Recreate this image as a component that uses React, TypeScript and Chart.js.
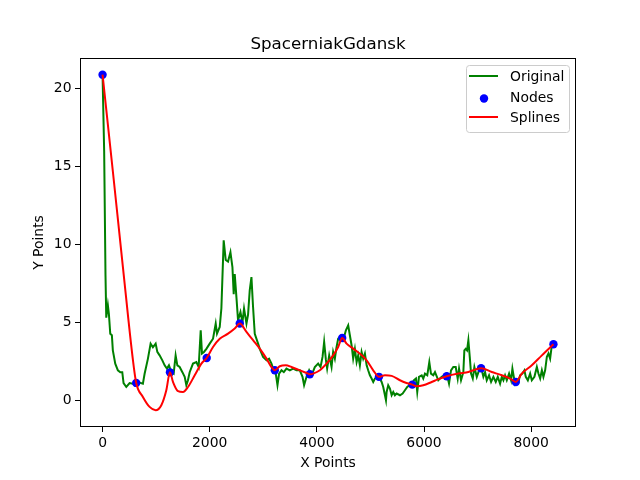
import { useEffect, useRef } from "react"
import { Chart, registerables } from "chart.js"

Chart.register(...registerables)

// "Original" series (green)
const origX = [
  0, 30, 55, 69, 99, 118, 144, 174, 192, 237, 286, 331, 368, 392, 443, 505, 566, 660, 753, 785,
  847, 897, 940, 991, 1022, 1065, 1116, 1159, 1202, 1239, 1284, 1327, 1364, 1396, 1439, 1490, 1533, 1564, 1594, 1626,
  1688, 1751, 1794, 1832, 1856, 1893, 1938, 2000, 2062, 2112, 2136, 2187, 2218, 2261, 2299, 2342, 2387, 2424, 2448, 2467,
  2499, 2529, 2574, 2611, 2641, 2686, 2716, 2747, 2779, 2809, 2841, 2903, 2934, 2996, 3060, 3108, 3153, 3183, 3233, 3265,
  3295, 3340, 3383, 3433, 3495, 3557, 3620, 3682, 3732, 3762, 3807, 3856, 3901, 3962, 4024, 4069, 4106, 4136, 4168, 4192,
  4230, 4274, 4304, 4336, 4368, 4398, 4443, 4491, 4542, 4585, 4616, 4648, 4678, 4710, 4742, 4772, 4803, 4835, 4865, 4897,
  4929, 4958, 4990, 5022, 5052, 5084, 5116, 5145, 5177, 5209, 5239, 5271, 5290, 5302, 5332, 5364, 5396, 5426, 5457, 5489,
  5551, 5601, 5644, 5687, 5725, 5770, 5813, 5850, 5874, 5906, 5957, 5986, 6018, 6061, 6099, 6130, 6173, 6205, 6267, 6330,
  6379, 6424, 6467, 6504, 6547, 6592, 6629, 6654, 6691, 6734, 6753, 6779, 6803, 6828, 6854, 6878, 6910, 6940, 6985, 7027,
  7065, 7108, 7140, 7171, 7214, 7252, 7295, 7339, 7377, 7420, 7452, 7482, 7513, 7545, 7588, 7625, 7650, 7676, 7700, 7732,
  7762, 7794, 7837, 7874, 7900, 7938, 7981, 8012, 8061, 8106, 8136, 8168, 8200, 8229, 8261, 8293, 8323, 8354, 8386, 8416,
]
const origY = [
  20.9, 16, 8, 5.3, 6.1, 5.55, 4.27, 4.17, 3.2, 2.35, 1.92, 1.8, 1.8, 1.1, 0.85, 1.1, 1.06, 1.17, 1.06, 1.7,
  2.67, 3.63, 3.4, 3.63, 3.1, 2.88, 2.56, 2.24, 2.03, 2.24, 1.8, 1.7, 2.88, 2.24, 2.13, 1.8, 1.5, 0.96, 1.28, 1.8,
  2.35, 2.45, 2.13, 4.49, 3.0, 3.1, 3.3, 3.63, 3.95, 4.92, 4.27, 4.7, 5.9, 10.26, 9.0, 8.9, 9.5, 8.55, 6.8, 8.1,
  6.6, 5.13, 5.66, 5.0, 5.88, 4.92, 5.5, 7.05, 7.9, 6.0, 4.27, 3.63, 3.3, 2.78, 2.56, 2.67, 2.35, 2.03, 1.71, 0.96,
  1.71, 1.92, 1.8, 2.03, 1.92, 2.03, 1.92, 1.92, 1.5, 0.96, 1.5, 1.92, 1.6, 2.13, 2.35, 2.13, 2.78, 3.74, 2.6, 2.03,
  2.88, 2.13, 3.1, 2.67, 3.42, 3.95, 4.06, 3.85, 4.49, 4.81, 4.17, 3.53, 2.67, 3.3, 2.45, 2.88, 2.24, 3.1, 2.67, 3.0,
  2.24, 1.92, 1.6, 1.39, 1.17, 1.39, 1.5, 1.39, 1.39, 1.17, 0.85, 0.32, 0.0, 0.53, 0.96, 0.75, 0.32, 0.53, 0.32, 0.43,
  0.32, 0.43, 0.64, 0.85, 0.96, 1.06, 1.28, 1.39, 0.53, 1.5, 1.6, 1.39, 1.71, 1.6, 2.45, 1.71, 1.6, 1.8, 1.28, 1.5,
  1.6, 1.71, 1.06, 1.92, 2.13, 2.13, 1.39, 2.03, 1.28, 1.8, 3.2, 3.3, 3.2, 3.85, 2.78, 1.71, 1.39, 2.13, 1.5, 1.92,
  2.13, 1.5, 1.8, 1.28, 1.6, 1.17, 1.5, 1.17, 1.5, 1.06, 1.5, 1.28, 1.6, 1.28, 1.71, 1.28, 2.03, 1.5, 1.06, 1.28,
  1.17, 1.6, 1.71, 1.92, 1.5, 1.28, 1.71, 1.28, 1.5, 2.13, 1.71, 1.39, 1.92, 1.5, 1.92, 2.78, 3.0, 2.67, 3.53, 3.63,
]

// "Nodes" (blue dots)
const nodeX = [0, 628, 1258, 1944, 2561, 3215, 3869, 4473, 5159, 5781, 6423, 7065, 7713, 8416]
const nodeY = [20.9, 1.11, 1.79, 2.71, 4.92, 1.92, 1.67, 3.99, 1.5, 1.0, 1.54, 2.05, 1.17, 3.59]

// "Splines" (red)
const splineX = [
  0, 192, 380, 566, 628, 753, 878, 991, 1097, 1190, 1258, 1315, 1408, 1501, 1595, 1720, 1845, 1944, 2062, 2187,
  2342, 2467, 2561, 2686, 2809, 2934, 3060, 3153, 3215, 3308, 3420, 3526, 3651, 3807, 3869, 3931, 4056, 4181, 4304, 4398,
  4473, 4555, 4678, 4803, 4929, 5052, 5159, 5271, 5396, 5551, 5660, 5781, 5863, 5986, 6143, 6267, 6423, 6641, 6828, 7065,
  7265, 7452, 7607, 7713, 7825, 8012, 8200, 8416,
]
const splineY = [
  20.9, 14.7, 8.55, 2.6, 1.11, 0.21, -0.43, -0.64, -0.32, 0.64, 1.79, 1.17, 0.58, 0.53, 0.85, 1.6, 2.35, 2.71, 3.42, 3.95,
  4.27, 4.6, 4.92, 4.38, 3.85, 3.31, 2.67, 2.13, 1.92, 2.18, 2.24, 2.13, 1.96, 1.75, 1.67, 1.71, 1.92, 2.35, 2.88, 3.42,
  3.99, 3.63, 3.31, 2.99, 2.56, 1.92, 1.5, 1.6, 1.56, 1.28, 1.12, 1.0, 0.9, 0.96, 1.17, 1.35, 1.54, 1.71, 1.81, 2.05,
  1.81, 1.6, 1.39, 1.17, 1.71, 2.24, 2.88, 3.59,
]

const xTicks = [0, 2000, 4000, 6000, 8000]
const yTicks = [0, 5, 10, 15, 20]

const FONT = "DejaVu Sans"

const toPoints = (xs: number[], ys: number[]) => xs.map((x, i) => ({ x, y: ys[i] }))

// title, axis labels, frame and legend drawn like matplotlib
const decorPlugin = {
  id: "decor",
  afterDatasetsDraw(chart: any) {
    const { ctx, chartArea } = chart
    const { left, top, right, bottom } = chartArea
    ctx.save()
    ctx.strokeStyle = "#000"
    ctx.lineWidth = 1
    ctx.strokeRect(left + 0.5, top + 0.5, right - left - 1, bottom - top - 1)

    ctx.fillStyle = "#000"
    ctx.textAlign = "center"
    ctx.textBaseline = "alphabetic"
    ctx.font = `16.7px "${FONT}"`
    ctx.fillText("SpacerniakGdansk", (left + right) / 2, 49)
    ctx.font = `13.9px "${FONT}"`
    ctx.fillText("X Points", (left + right) / 2, 467)
    ctx.save()
    ctx.translate(43, (top + bottom) / 2)
    ctx.rotate(-Math.PI / 2)
    ctx.fillText("Y Points", 0, 0)
    ctx.restore()

    // legend
    ctx.beginPath()
    ctx.roundRect(466.5, 65.5, 103, 67, 3)
    ctx.fillStyle = "rgba(255,255,255,0.8)"
    ctx.fill()
    ctx.strokeStyle = "#cccccc"
    ctx.stroke()

    ctx.lineWidth = 2
    ctx.strokeStyle = "#008000"
    ctx.beginPath()
    ctx.moveTo(469, 76)
    ctx.lineTo(498, 76)
    ctx.stroke()
    ctx.fillStyle = "#0000ff"
    ctx.beginPath()
    ctx.arc(484, 98.5, 4.2, 0, Math.PI * 2)
    ctx.fill()
    ctx.strokeStyle = "#ff0000"
    ctx.beginPath()
    ctx.moveTo(469, 117)
    ctx.lineTo(498, 117)
    ctx.stroke()

    ctx.fillStyle = "#000"
    ctx.textAlign = "left"
    ctx.font = `13.9px "${FONT}"`
    ctx.fillText("Original", 510, 80.5)
    ctx.fillText("Nodes", 510, 102)
    ctx.fillText("Splines", 510, 122)
    ctx.restore()
  },
}

export default function App() {
  const chartRef = useRef<HTMLCanvasElement>(null)
  const chartInstance = useRef<Chart | null>(null)

  useEffect(() => {
    if (!chartRef.current) return
    if (chartInstance.current) chartInstance.current.destroy()

    const tickFont = { family: FONT, size: 13.9 }
    const gridOpts = {
      display: true,
      drawOnChartArea: false,
      drawTicks: true,
      tickLength: 5,
      tickColor: "#000",
      tickWidth: 1,
    }

    chartInstance.current = new Chart(chartRef.current, {
      type: "scatter",
      data: {
        datasets: [
          {
            label: "Original",
            data: toPoints(origX, origY),
            showLine: true,
            borderColor: "#008000",
            borderWidth: 2,
            pointRadius: 0,
            order: 3,
          },
          {
            label: "Nodes",
            data: toPoints(nodeX, nodeY),
            backgroundColor: "#0000ff",
            borderColor: "#0000ff",
            borderWidth: 0,
            pointRadius: 4.2,
            order: 2,
          },
          {
            label: "Splines",
            data: toPoints(splineX, splineY),
            showLine: true,
            borderColor: "#ff0000",
            borderWidth: 2,
            pointRadius: 0,
            cubicInterpolationMode: "monotone",
            order: 1,
          },
        ],
      },
      options: {
        responsive: false,
        animation: false,
        layout: { padding: { left: 0, top: 58, right: 64, bottom: 0 } },
        plugins: {
          legend: { display: false },
          title: { display: false },
          tooltip: { enabled: false },
        },
        scales: {
          x: {
            type: "linear",
            min: -421,
            max: 8837,
            afterBuildTicks: (axis: any) => {
              axis.ticks = xTicks.map((value) => ({ value }))
            },
            afterFit: (axis: any) => {
              axis.height = 53
            },
            grid: gridOpts,
            border: { display: false },
            ticks: {
              font: tickFont,
              color: "#000",
              padding: 3.5,
              maxRotation: 0,
              callback: (value: any) => `${value}`,
            },
          },
          y: {
            type: "linear",
            min: -1.72,
            max: 21.97,
            afterBuildTicks: (axis: any) => {
              axis.ticks = yTicks.map((value) => ({ value }))
            },
            afterFit: (axis: any) => {
              axis.width = 80
            },
            grid: gridOpts,
            border: { display: false },
            ticks: { font: tickFont, color: "#000", padding: 3.5, callback: (value: any) => `${value}` },
          },
        },
      },
      plugins: [decorPlugin],
    })

    return () => {
      if (chartInstance.current) {
        chartInstance.current.destroy()
        chartInstance.current = null
      }
    }
  }, [])

  return (
    <div style={{ position: "absolute", left: 0, top: 0, width: 640, height: 480, background: "#fff" }}>
      <canvas ref={chartRef} width={640} height={480} style={{ width: 640, height: 480 }}></canvas>
    </div>
  )
}
